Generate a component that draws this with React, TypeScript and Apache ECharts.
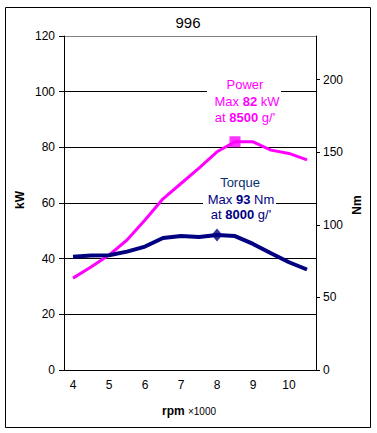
import React, { useEffect, useRef } from "react";
import * as echarts from "echarts";

const categories = ["4", "4.5", "5", "5.5", "6", "6.5", "7", "7.5", "8", "8.5", "9", "9.5", "10", "10.5"];
const powerKW = [33, 37, 41.3, 46.7, 53.9, 61.5, 67, 72.5, 78.4, 82, 82, 79, 77.8, 75.5];
const torqueNm = [78, 78.8, 79, 81.5, 85, 90.9, 92.2, 91.6, 93, 92.2, 86.8, 80.4, 74.2, 69.2];
const kwTicks = [0, 20, 40, 60, 80, 100, 120];
const nmTicks = [0, 50, 100, 150, 200];
const powerMax = { rpm: "8.5", value: 82, label: "82", at: "8500" };
const torqueMax = { rpm: "8", value: 93, label: "93", at: "8000" };

const FONT = "Liberation Sans, Arial, sans-serif";
const MAGENTA = "#FF00FF";
const NAVY = "#000080";
const TORQUE_TXT = "#0A2E6E";

export default function App() {
  const ref = useRef<HTMLDivElement>(null);
  useEffect(() => {
    if (!ref.current) return;
    const chart = echarts.init(ref.current, null, { renderer: "svg" });
    const richLine = (color: string, pre: string, bold: string, post: string) => ({
      text: `{n|${pre}}{b|${bold}}{n|${post}}`,
      rich: {
        n: { fontSize: 13, fontFamily: FONT, fill: color, color },
        b: { fontSize: 13, fontFamily: FONT, fontWeight: "bold", fill: color, color },
      },
      align: "center",
      verticalAlign: "middle",
      fill: color,
    });
    chart.setOption({
      animation: false,
      textStyle: { fontFamily: FONT },
      grid: { left: 64, right: 61, top: 36, bottom: 63, containLabel: false },
      xAxis: {
        type: "category",
        data: categories,
        boundaryGap: true,
        axisLine: { lineStyle: { color: "#000", width: 1 } },
        axisTick: { show: false },
        axisLabel: { interval: 1, color: "#000", fontSize: 12, margin: 9, fontFamily: FONT },
      },
      yAxis: [
        {
          type: "value",
          min: 0,
          max: 120,
          interval: 20,
          position: "left",
          axisLine: { show: true, lineStyle: { color: "#000" } },
          axisTick: { show: true, inside: false, length: 5, lineStyle: { color: "#000" } },
          axisLabel: { color: "#000", fontSize: 12, margin: 9, fontFamily: FONT },
          splitLine: {
            show: true,
            lineStyle: { color: ["#000", "#000", "#000", "#000", "#000", "#000", "#808080"], width: 1 },
          },
        },
        {
          type: "value",
          min: 0,
          max: 230,
          interval: 50,
          position: "right",
          axisLine: { show: true, lineStyle: { color: "#000" } },
          axisTick: { show: true, inside: false, length: 4, customValues: nmTicks, lineStyle: { color: "#000" } },
          axisLabel: { color: "#000", fontSize: 12, margin: 7, fontFamily: FONT, customValues: nmTicks },
          splitLine: { show: false },
        },
      ],
      series: [
        {
          name: "Power",
          type: "line",
          yAxisIndex: 0,
          data: powerKW,
          symbol: "none",
          lineStyle: { color: MAGENTA, width: 3 },
          z: 3,
        },
        {
          name: "Torque",
          type: "line",
          yAxisIndex: 1,
          data: torqueNm,
          symbol: "none",
          lineStyle: { color: NAVY, width: 4 },
          z: 3,
        },
        {
          type: "scatter",
          yAxisIndex: 0,
          data: [[powerMax.rpm, powerMax.value]],
          symbol: "rect",
          symbolSize: 11,
          itemStyle: { color: MAGENTA },
          z: 4,
        },
        {
          type: "scatter",
          yAxisIndex: 1,
          data: [[torqueMax.rpm, torqueMax.value]],
          symbol: "diamond",
          symbolSize: [11, 13],
          itemStyle: { color: NAVY },
          z: 4,
        },
      ],
      graphic: [
        {
          type: "rect",
          silent: true,
          z: 100,
          shape: { x: 5.5, y: 7.5, width: 365, height: 420 },
          style: { fill: "none", stroke: "#000", lineWidth: 1 },
        },
        {
          type: "text",
          x: 188,
          y: 22,
          z: 100,
          style: { text: "996", fontSize: 15, fontFamily: FONT, fill: "#000", align: "center", verticalAlign: "middle" },
        },
        {
          type: "text",
          x: 20,
          y: 200,
          rotation: Math.PI / 2,
          z: 100,
          style: { text: "kW", fontSize: 12, fontWeight: "bold", fontFamily: FONT, fill: "#000", align: "center", verticalAlign: "middle" },
        },
        {
          type: "text",
          x: 357,
          y: 205,
          rotation: Math.PI / 2,
          z: 100,
          style: { text: "Nm", fontSize: 12, fontWeight: "bold", fontFamily: FONT, fill: "#000", align: "center", verticalAlign: "middle" },
        },
        {
          type: "text",
          x: 189,
          y: 411,
          z: 100,
          style: {
            text: "{b|rpm} {s|×1000}",
            rich: {
              b: { fontSize: 12, fontWeight: "bold", fontFamily: FONT, fill: "#000", color: "#000" },
              s: { fontSize: 10, fontFamily: FONT, fill: "#000", color: "#000" },
            },
            align: "center",
            verticalAlign: "middle",
          },
        },
        {
          type: "rect",
          silent: true,
          z: 1,
          shape: { x: 207, y: 76, width: 74, height: 48 },
          style: { fill: "#fff" },
        },
        {
          type: "text", x: 245, y: 84, z: 100,
          style: { text: "Power", fontSize: 13, fontFamily: FONT, fill: MAGENTA, align: "center", verticalAlign: "middle" },
        },
        { type: "text", x: 247, y: 101, z: 100, style: richLine(MAGENTA, "Max ", powerMax.label, " kW") },
        { type: "text", x: 245, y: 117, z: 100, style: richLine(MAGENTA, "at ", powerMax.at, " g/'") },
        {
          type: "rect",
          silent: true,
          z: 1,
          shape: { x: 203, y: 174, width: 73, height: 46 },
          style: { fill: "#fff" },
        },
        {
          type: "text", x: 240, y: 182, z: 100,
          style: { text: "Torque", fontSize: 13, fontFamily: FONT, fill: TORQUE_TXT, align: "center", verticalAlign: "middle" },
        },
        { type: "text", x: 241, y: 199, z: 100, style: richLine(NAVY, "Max ", torqueMax.label, " Nm") },
        { type: "text", x: 241, y: 214, z: 100, style: richLine(NAVY, "at ", torqueMax.at, " g/'") },
      ],
    });
    return () => chart.dispose();
  }, []);
  return (
    <div
      ref={ref}
      style={{ position: "fixed", left: 0, top: 0, width: 377, height: 433, background: "#fff" }}
    />
  );
}
